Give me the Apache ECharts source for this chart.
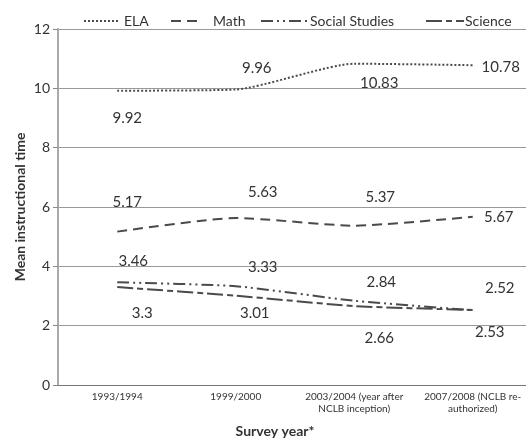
<!DOCTYPE html>
<html>
<head>
<meta charset="utf-8">
<script src="https://cdn.jsdelivr.net/npm/echarts@6/dist/echarts.min.js"></script>
<style>
html,body{margin:0;padding:0;background:#fff;}
#chart{width:526px;height:439px;}
</style>
</head>
<body>
<div id="chart"></div>
<script>
const categories = ['1993/1994', '1999/2000', '2003/2004 (year after\nNCLB inception)', '2007/2008 (NCLB re-\nauthorized)'];
const elaValues = [9.92, 9.96, 10.83, 10.78];
const mathValues = [5.17, 5.63, 5.37, 5.67];
const socialValues = [3.46, 3.33, 2.84, 2.52];
const scienceValues = [3.3, 3.01, 2.66, 2.53];
const yTicks = [0, 2, 4, 6, 8, 10, 12];

// label offsets (pixels) relative to each point
const elaOffsets = [[10, 27], [21, -21], [25, 19], [28, 2]];
const mathOffsets = [[10, -29], [27, -26], [26, -29], [26, 0]];
const socialOffsets = [[16, -21], [27, -19], [27, -19], [27, -22]];
const scienceOffsets = [[25, 26], [19, 17], [25, 32], [17, 22]];

const FONT = 'Lato';
const TXT = '#333';
const LINE = '#4a4a4a';

function mkData(vals, offs) {
  return vals.map((v, i) => ({ value: v, label: { offset: offs[i] } }));
}
function mkSeries(name, vals, offs, dash) {
  return {
    name: name,
    type: 'line',
    smooth: 0.2,
    symbol: 'circle',
    symbolSize: 1,
    showSymbol: true,
    itemStyle: { color: 'rgba(0,0,0,0)', borderWidth: 0 },
    lineStyle: { color: LINE, width: 2, type: dash },
    label: {
      show: true, position: 'inside', color: TXT,
      fontFamily: FONT, fontSize: 15, align: 'center', verticalAlign: 'middle'
    },
    emphasis: { disabled: true },
    data: mkData(vals, offs)
  };
}
function mkLegend(name, left, w, padLeft) {
  return {
    data: [name], left: left, top: 9, itemWidth: w, itemHeight: 14, itemGap: 4,
    textStyle: { fontFamily: FONT, fontSize: 14, color: TXT, padding: [0, 0, 0, padLeft] },
    selectedMode: false
  };
}

const chart = echarts.init(document.getElementById('chart'), null, { renderer: 'canvas' });
chart.setOption({
  animation: false,
  backgroundColor: '#fff',
  legend: [
    mkLegend('ELA', 78, 35, 0),
    mkLegend('Math', 165, 28, 9),
    mkLegend('Social Studies', 255, 48, -4),
    mkLegend('Science', 420, 38, -4)
  ],
  grid: { left: 58, top: 29, bottom: 54, right: -6, containLabel: false, outerBoundsMode: 'none' },
  xAxis: {
    type: 'category',
    data: categories,
    boundaryGap: true,
    axisLine: { lineStyle: { color: '#777', width: 1 } },
    axisTick: { show: false },
    axisLabel: { fontFamily: FONT, fontSize: 10, color: TXT, lineHeight: 12, margin: 6, interval: 0 },
    name: 'Survey year*',
    nameLocation: 'middle',
    nameGap: 39,
    nameMoveOverlap: false,
    nameTextStyle: { fontFamily: FONT, fontSize: 14, fontWeight: 'bold', color: TXT, padding: [0, 40, 0, 0] }
  },
  yAxis: {
    type: 'value',
    min: yTicks[0],
    max: yTicks[yTicks.length - 1],
    interval: 2,
    axisLine: { show: true, lineStyle: { color: '#aaa', width: 2 } },
    axisTick: { show: true, length: 5, lineStyle: { color: '#888' } },
    splitLine: { lineStyle: { color: '#999', width: 1 } },
    axisLabel: { fontFamily: FONT, fontSize: 14, color: TXT, margin: 8 },
    name: 'Mean instructional time',
    nameLocation: 'middle',
    nameGap: 31,
    nameMoveOverlap: false,
    nameTextStyle: { fontFamily: FONT, fontSize: 14, fontWeight: 'bold', color: TXT }
  },
  series: [
    mkSeries('ELA', elaValues, elaOffsets, [2, 2]),
    mkSeries('Math', mathValues, mathOffsets, [10, 6]),
    mkSeries('Social Studies', socialValues, socialOffsets, [12, 4, 2, 4, 2, 4]),
    mkSeries('Science', scienceValues, scienceOffsets, [16, 4, 6, 4])
  ]
});
</script>
</body>
</html>
